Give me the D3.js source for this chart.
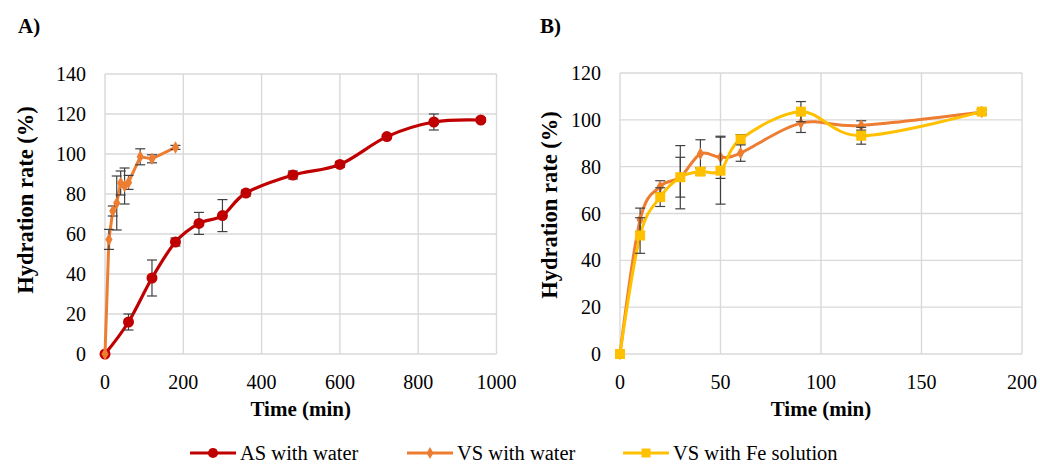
<!DOCTYPE html>
<html>
<head>
<meta charset="utf-8">
<script src="https://cdn.jsdelivr.net/npm/d3@7"></script>
<style>
  body { margin: 0; background: #fff; }
  svg text { font-family: 'Liberation Serif', 'Tinos', 'DejaVu Serif', 'Times New Roman', Times, serif; }
</style>
</head>
<body>
<div id="chart"></div>
<script>
// Panel A - AS with water
const asTime = [0, 60, 120, 180, 240, 300, 360, 480, 600, 720, 840, 960];
const asRate = [0, 16, 38, 56, 65.3, 69.2, 80.5, 89.5, 94.8, 108.7, 116, 117];
const asErr  = [0, 4, 9, 2, 5.5, 8, 1.5, 2, 1.5, 1, 4, 1];

// VS with water (both panels)
const vsTime = [0, 10, 20, 30, 40, 50, 60, 90, 120, 180];
const vsRate = [0, 57.3, 71.5, 75.5, 85.5, 84, 85.8, 98.6, 97.6, 103.3];
const vsErr  = [0, 5, 2.5, 13.5, 6, 9, 3.5, 4, 2, 1];

// VS with Fe solution (panel B)
const feTime = [0, 10, 20, 30, 40, 50, 60, 90, 120, 180];
const feRate = [0, 50.6, 67, 75.5, 77.9, 78.3, 91.7, 103.5, 93.2, 103.5];
const feErr  = [0, 7.6, 4, 8.5, 1.5, 14.3, 2, 4.3, 3.6, 1];

const xTicksA = [0, 200, 400, 600, 800, 1000];
const yTicksA = [0, 20, 40, 60, 80, 100, 120, 140];
const xTicksB = [0, 50, 100, 150, 200];
const yTicksB = [0, 20, 40, 60, 80, 100, 120];

const legendNames = ['AS with water', 'VS with water', 'VS with Fe solution'];
const colors = { as: '#C00000', vs: '#ED7D31', fe: '#FFC000' };

const W = 1040, H = 465;
const svg = d3.select('#chart').append('svg')
    .attr('width', W).attr('height', H);

function zip(t, v, e) {
    return t.map((d, i) => ({ t: d, v: v[i], e: e[i] }));
}

function drawPanel(opts) {
    const x = d3.scaleLinear().domain(opts.xDomain).range([opts.left, opts.right]);
    const y = d3.scaleLinear().domain(opts.yDomain).range([opts.bottom, opts.top]);
    const g = svg.append('g');

    // gridlines
    g.selectAll('.hgrid').data(opts.yTicks).enter().append('line')
        .attr('x1', opts.left).attr('x2', opts.right)
        .attr('y1', d => y(d)).attr('y2', d => y(d))
        .attr('stroke', '#d9d9d9').attr('stroke-width', 1.4);
    g.selectAll('.vgrid').data(opts.xTicks).enter().append('line')
        .attr('x1', d => x(d)).attr('x2', d => x(d))
        .attr('y1', opts.top).attr('y2', opts.bottom)
        .attr('stroke', '#d9d9d9').attr('stroke-width', 1.4);

    // tick labels
    g.selectAll('.ylab').data(opts.yTicks).enter().append('text')
        .attr('x', opts.left - 19).attr('y', d => y(d) + 7)
        .attr('text-anchor', 'end').attr('font-size', 20)
        .text(d => d);
    g.selectAll('.xlab').data(opts.xTicks).enter().append('text')
        .attr('x', d => x(d)).attr('y', opts.bottom + 35)
        .attr('text-anchor', 'middle').attr('font-size', 20)
        .text(d => d);

    // axis titles
    g.append('text')
        .attr('x', (opts.left + opts.right) / 2).attr('y', opts.bottom + 62)
        .attr('text-anchor', 'middle').attr('font-size', 21).attr('font-weight', 'bold')
        .text('Time (min)');
    g.append('text')
        .attr('transform', `translate(${opts.titleX},${opts.titleY}) rotate(-90)`)
        .attr('text-anchor', 'middle').attr('font-size', 22.5).attr('font-weight', 'bold')
        .text('Hydration rate (%)');
    g.append('text')
        .attr('x', opts.labelX).attr('y', 33)
        .attr('font-size', 21).attr('font-weight', 'bold')
        .text(opts.label);

    opts.series.forEach(s => {
        const line = d3.line().x(d => x(d.t)).y(d => y(d.v)).curve(s.curve);
        g.append('path').datum(s.data)
            .attr('d', line).attr('fill', 'none')
            .attr('stroke', s.color).attr('stroke-width', s.width);

        const eb = g.append('g').attr('stroke', '#404040').attr('stroke-width', 1.2);
        s.data.filter(d => d.e > 0).forEach(d => {
            const cx = x(d.t);
            eb.append('line').attr('x1', cx).attr('x2', cx).attr('y1', y(d.v - d.e)).attr('y2', y(d.v + d.e));
            eb.append('line').attr('x1', cx - 5).attr('x2', cx + 5).attr('y1', y(d.v - d.e)).attr('y2', y(d.v - d.e));
            eb.append('line').attr('x1', cx - 5).attr('x2', cx + 5).attr('y1', y(d.v + d.e)).attr('y2', y(d.v + d.e));
        });

        g.selectAll(null).data(s.data).enter().append('path')
            .attr('transform', d => `translate(${x(d.t)},${y(d.v)})`)
            .attr('d', d3.symbol().type(s.symbol).size(s.size))
            .attr('fill', s.color);
    });
}

const smooth = d3.curveCardinal.tension(0);

drawPanel({
    left: 105, right: 496.5, top: 74, bottom: 354,
    xDomain: [0, 1000], yDomain: [0, 140],
    xTicks: xTicksA, yTicks: yTicksA,
    titleX: 33, titleY: 200, label: 'A)', labelX: 18,
    series: [
        { data: zip(asTime, asRate, asErr), color: colors.as, width: 3.2, curve: smooth, symbol: d3.symbolCircle, size: 95 },
        { data: zip(vsTime, vsRate, vsErr), color: colors.vs, width: 3, curve: d3.curveLinear, symbol: d3.symbolDiamond, size: 45 }
    ]
});

drawPanel({
    left: 620, right: 1022, top: 73, bottom: 354,
    xDomain: [0, 200], yDomain: [0, 120],
    xTicks: xTicksB, yTicks: yTicksB,
    titleX: 557, titleY: 205, label: 'B)', labelX: 540,
    series: [
        { data: zip(vsTime, vsRate, vsErr), color: colors.vs, width: 3, curve: smooth, symbol: d3.symbolDiamond, size: 45 },
        { data: zip(feTime, feRate, feErr), color: colors.fe, width: 3, curve: smooth, symbol: d3.symbolSquare, size: 100 }
    ]
});

// legend
const legendX = [190, 407, 623];
const legendSymbols = [d3.symbolCircle, d3.symbolDiamond, d3.symbolSquare];
const legendSizes = [80, 40, 80];
const legendColors = [colors.as, colors.vs, colors.fe];
const lg = svg.append('g');
legendNames.forEach((name, i) => {
    const lx = legendX[i], ly = 453;
    lg.append('line').attr('x1', lx).attr('x2', lx + 46).attr('y1', ly).attr('y2', ly)
        .attr('stroke', legendColors[i]).attr('stroke-width', 3);
    lg.append('path').attr('transform', `translate(${lx + 23},${ly})`)
        .attr('d', d3.symbol().type(legendSymbols[i]).size(legendSizes[i]))
        .attr('fill', legendColors[i]);
    lg.append('text').attr('x', lx + 50).attr('y', ly + 6.5)
        .attr('font-size', 20.5).text(name);
});
</script>
</body>
</html>
